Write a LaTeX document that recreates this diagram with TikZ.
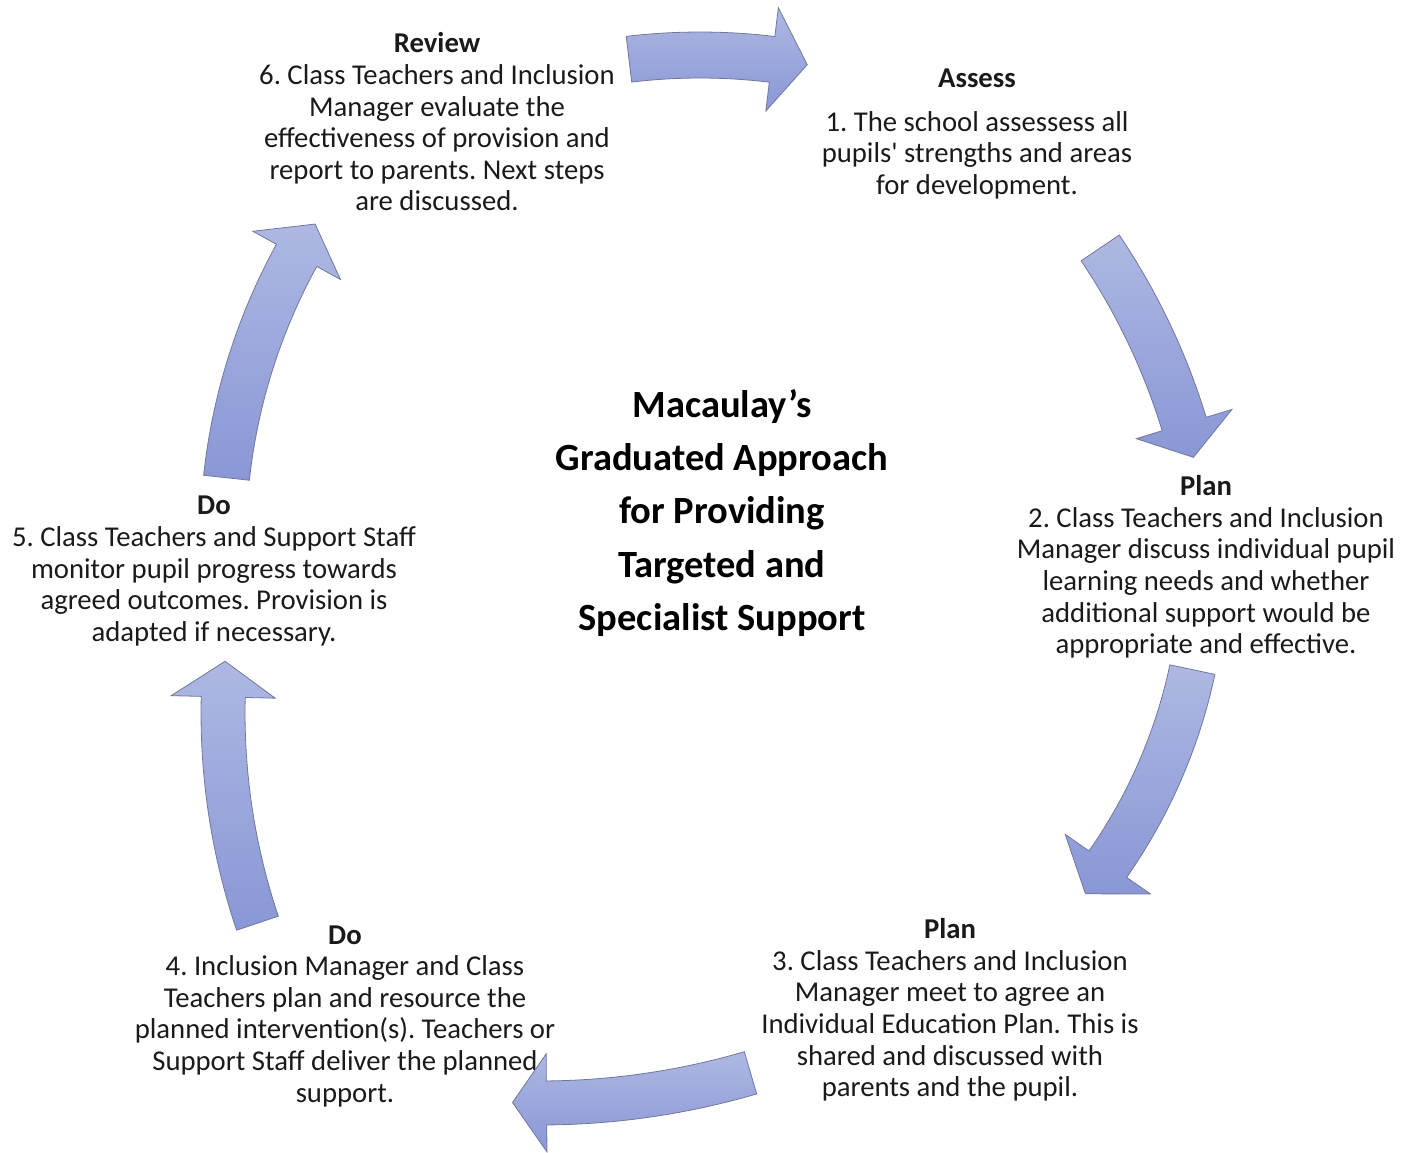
\documentclass[tikz,border=0pt]{standalone}
\usepackage{fontspec}
\setmainfont{Carlito}
\usepackage{tikz}
\frenchspacing

\definecolor{arrowtop}{RGB}{174,184,227}
\definecolor{arrowbot}{RGB}{137,151,213}
\definecolor{arrowline}{RGB}{112,120,156}
\definecolor{stagegray}{RGB}{26,26,26}

\tikzset{
  arrowbody/.style={top color=arrowtop,bottom color=arrowbot,draw=arrowline,line width=0.8pt,line join=miter},
  stagetext/.style={align=center,inner sep=0pt,text=stagegray,font=\fontsize{28.7}{31.6}\selectfont},
  titletext/.style={align=center,inner sep=0pt,font=\fontsize{38.5}{53.3}\selectfont\bfseries}
}

% bent arrow: centre, radius, tail angle, head angle, tip angle, half shaft, half head
\newcommand{\bentarrow}[7]{%
  \path[arrowbody,shift={(#1)}] (#3:#2+#6) arc[start angle=#3,end angle=#4,radius=#2+#6]
    -- (#4:#2+#7) -- (#5:#2) -- (#4:#2-#7) -- (#4:#2-#6)
    arc[start angle=#4,end angle=#3,radius=#2-#6] -- cycle;}

\begin{document}
\begin{tikzpicture}[x=1pt,y=-1pt]
	\useasboundingbox (0,0) rectangle (1402,1153);
	% the six stages
	\node[stagetext] (review) at (437,122) {\textbf{Review}\\6. Class Teachers and Inclusion\\Manager evaluate the\\effectiveness of provision and\\report to parents. Next steps\\are discussed.};
	\node[stagetext] (assess) at (977,134) {\textbf{Assess}\\[12pt]1. The school assessess all\\pupils\textquotesingle{} strengths and areas\\for development.};
	\node[stagetext] (plan) at (1206,567) {\textbf{Plan}\\2. Class Teachers and Inclusion\\Manager discuss individual pupil\\learning needs and whether\\additional support would be\\appropriate and effective.};
	\node[stagetext] (agree) at (950,1010) {\textbf{Plan}\\3. Class Teachers and Inclusion\\Manager meet to agree an\\Individual Education Plan. This is\\shared and discussed with\\parents and the pupil.};
	\node[stagetext] (deliver) at (345,1016) {\textbf{Do}\\4. Inclusion Manager and Class\\Teachers plan and resource the\\planned intervention(s). Teachers or\\Support Staff deliver the planned\\support.};
	\node[stagetext] (monitor) at (214,571) {\textbf{Do}\\5. Class Teachers and Support Staff\\monitor pupil progress towards\\agreed outcomes. Provision is\\adapted if necessary.};
	\node[titletext] (title) at (722,513) {Macaulay’s\\Graduated Approach\\for Providing\\Targeted and\\Specialist Support};
	% arrows round the cycle
	\bentarrow{700,655}{600}{-96.8}{-83.1}{-79.7}{23}{52}
	\bentarrow{553,617}{660}{-34}{-17}{-14}{23}{50}
	\bentarrow{672,559}{532}{12}{35}{39}{23}{52}
	\bentarrow{540,353}{750}{73.7}{89.5}{92.1}{22}{49}
	\bentarrow{882,713}{659}{161.4}{181.4}{184.5}{22}{52}
	\bentarrow{818,542}{595}{186.2}{208.8}{212.3}{23}{50}
\end{tikzpicture}
\end{document}
